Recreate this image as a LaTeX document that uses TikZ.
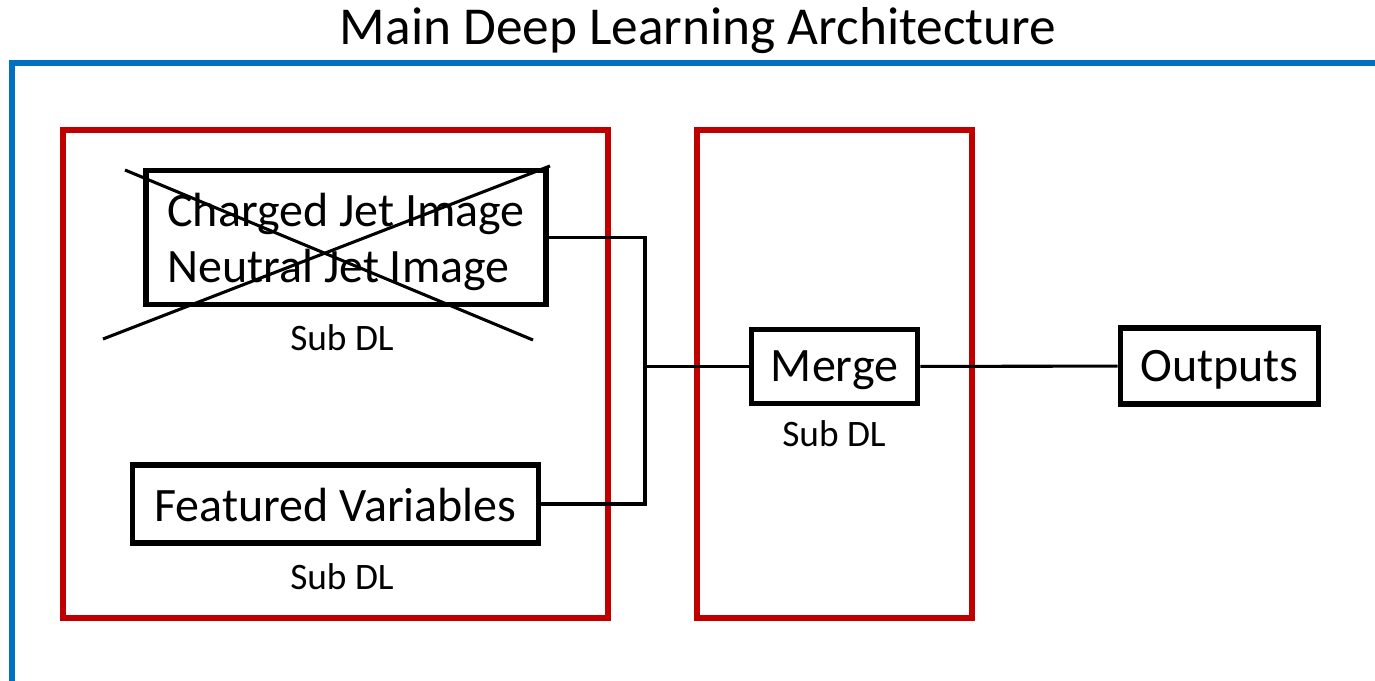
\documentclass[tikz,border=0pt]{standalone}
\usepackage{fontspec}
\setmainfont{Carlito}
\usepackage{tikz}
\usetikzlibrary{positioning}
\definecolor{frameblue}{HTML}{0070C0}
\definecolor{groupred}{HTML}{C00000}
\tikzset{
x=0.75pt, y=-0.75pt, % one unit per pixel, y pointing down
block/.style={draw, line width=3.8pt, inner sep=0pt, text height=30pt, text depth=7pt,
  font=\fontsize{36}{42}\selectfont}, % black boxes
group/.style={draw=groupred, line width=4pt, inner sep=0pt}, % red sub-network frames
sublabel/.style={font=\fontsize{28}{30}\selectfont}, % the small caption under a block
wire/.style={line width=2.3pt}, % connections between blocks
}

\begin{document}
\begin{tikzpicture}
  \useasboundingbox (0,0) rectangle (1375,681);
  \node[font=\fontsize{40}{44}\selectfont] (title) at (698,31) {Main Deep Learning Architecture};
  \draw[frameblue, line width=4.5pt] (12,681) |- (1375,63);

  % the two sub DL groups
  \node[group, minimum width=408.75pt, minimum height=366pt] (left) at (335.5,374) {};
  \node[group, minimum width=206.25pt, minimum height=366pt] (mid) at (834.5,374) {};

  \node[block, minimum width=300pt, minimum height=100pt, align=left, text height=75pt] (jet) at (346,237.5)
    {Charged Jet Image\\Neutral Jet Image};
  \node[sublabel] (jetsub) at (342,338) {Sub DL};
  \draw[line width=2.3pt] (125,170) -- (533,340);
  \draw[line width=2.3pt] (103,339) -- (550,166);

  \node[block, minimum width=305pt, minimum height=58.5pt, text depth=4pt] (feat) at (335.5,504) {Featured Variables};
  \node[sublabel] (featsub) at (342,577) {Sub DL};

  \node[block, minimum width=125pt, minimum height=56pt] (merge) at (834.5,366.5) {Merge};
  \node[sublabel] (mergesub) at (834,434) {Sub DL};

  \node[block, minimum width=149pt, minimum height=57pt] (out) at (1219.5,366) {Outputs};

  \coordinate (junc) at (645,366.5);
  \draw[wire] (jet.east) -| (junc) |- (feat.east);
  \draw[wire] (junc) -- (merge);
  \draw[wire] (merge) -- (out);
\end{tikzpicture}
\end{document}
